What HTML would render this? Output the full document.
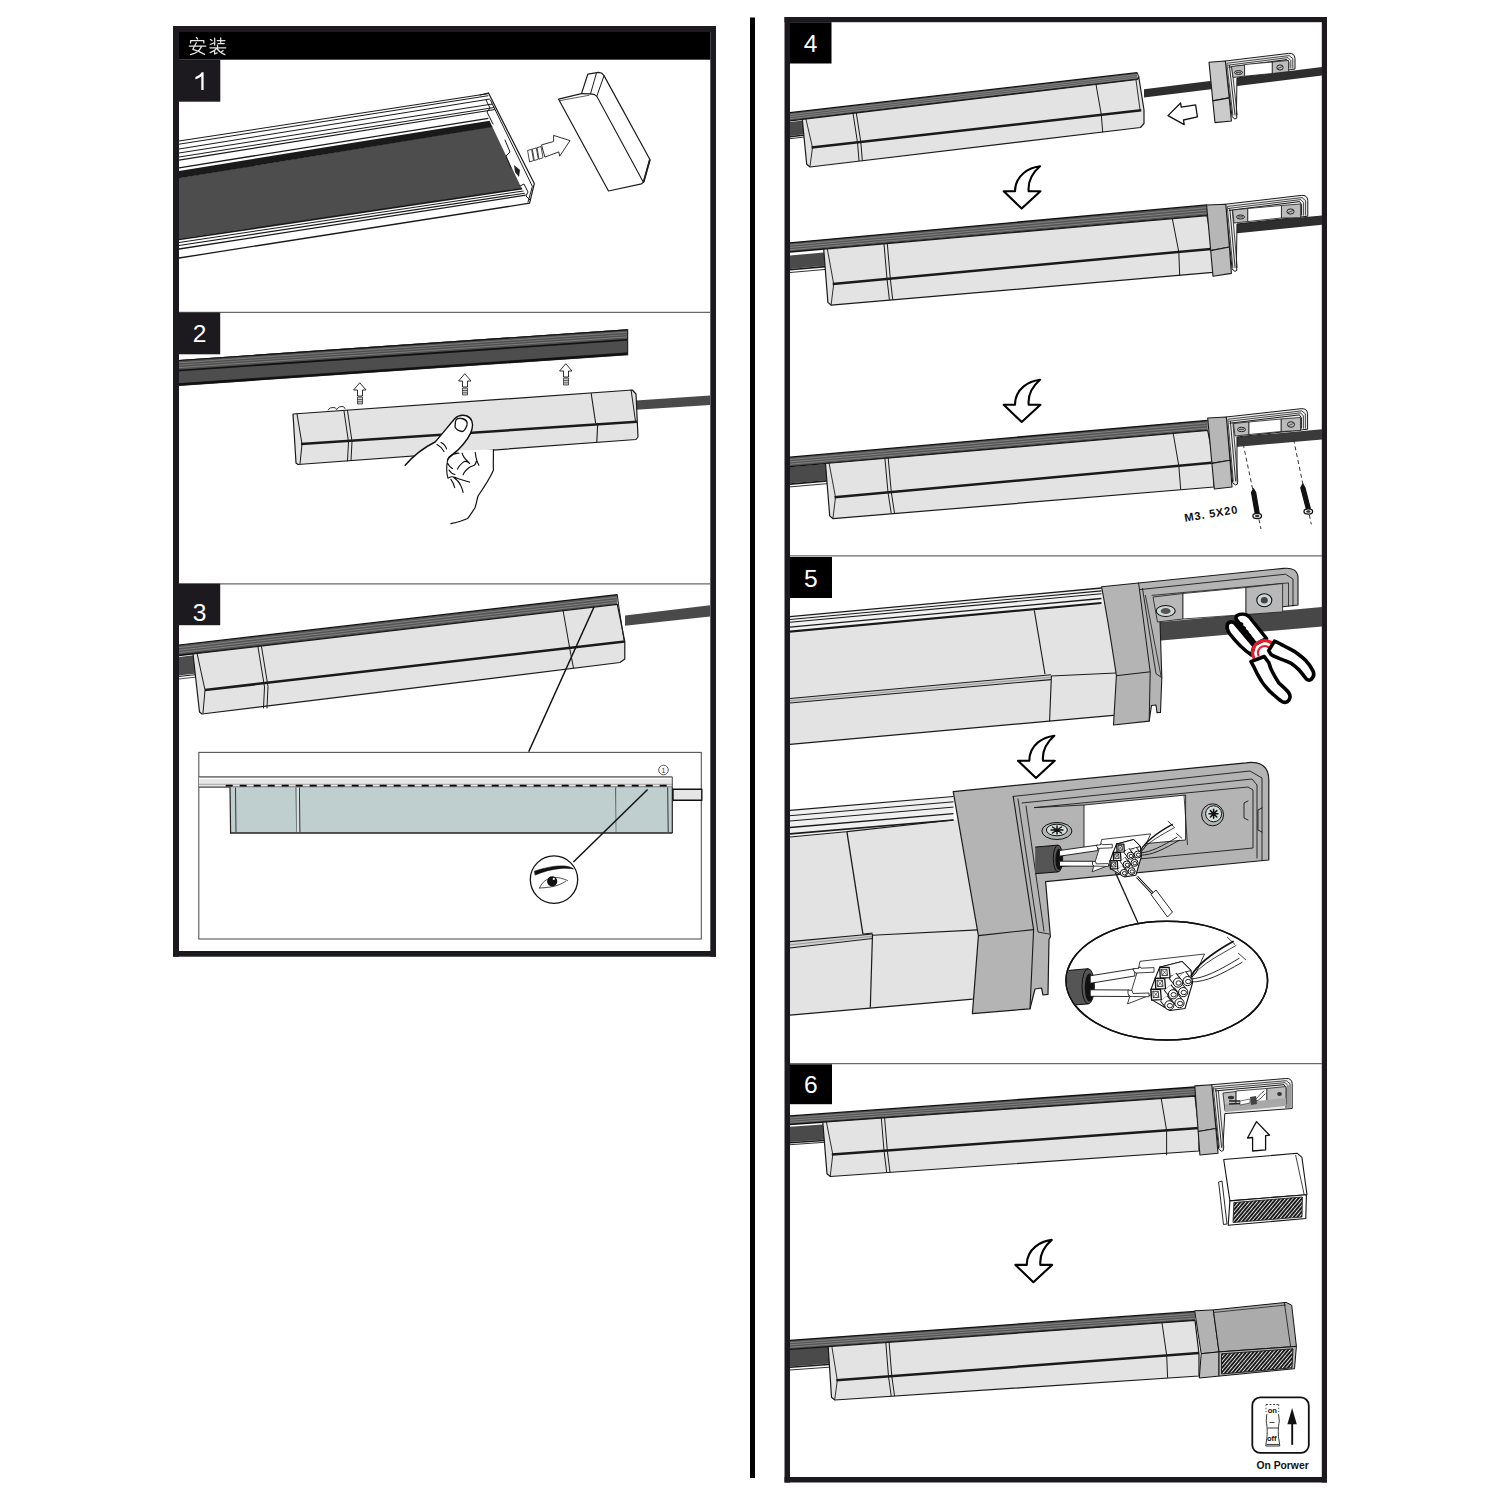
<!DOCTYPE html>
<html><head><meta charset="utf-8"><style>
html,body{margin:0;padding:0;background:#fff;}
svg{display:block;}
text{font-family:"Liberation Sans",sans-serif;}
</style></head><body>
<svg width="1500" height="1500" viewBox="0 0 1500 1500">
<rect width="1500" height="1500" fill="#fff"/>
<rect x="173" y="26" width="543.0" height="6.0" fill="#1c1a1f"/>
<rect x="173" y="951" width="543.0" height="5.7" fill="#1c1a1f"/>
<rect x="173" y="26" width="6.0" height="930.7" fill="#1c1a1f"/>
<rect x="710.3" y="26" width="5.7" height="930.7" fill="#1c1a1f"/>
<rect x="179" y="32" width="531.3" height="27.7" fill="#000"/>
<line x1="179.0" y1="312.4" x2="710.0" y2="312.4" stroke="#6a6a6a" stroke-width="1.2" />
<line x1="179.0" y1="583.8" x2="710.0" y2="583.8" stroke="#6a6a6a" stroke-width="1.2" />
<rect x="179" y="59.7" width="41.3" height="42.0" fill="#1c1a1f"/>
<rect x="179" y="312.5" width="41.2" height="41.8" fill="#1c1a1f"/>
<rect x="179" y="583.7" width="41.2" height="41.5" fill="#1c1a1f"/>
<rect x="750" y="17.5" width="5.0" height="1460.5" fill="#000"/>
<rect x="784.5" y="17" width="542.5" height="5.2" fill="#1c1a1f"/>
<rect x="784.5" y="1477" width="542.5" height="5.5" fill="#1c1a1f"/>
<rect x="784.5" y="17" width="5.5" height="1465.5" fill="#1c1a1f"/>
<rect x="1321.8" y="17" width="5.2" height="1465.5" fill="#1c1a1f"/>
<line x1="790.0" y1="555.8" x2="1322.0" y2="555.8" stroke="#6a6a6a" stroke-width="1.2" />
<line x1="790.0" y1="1063.7" x2="1322.0" y2="1063.7" stroke="#6a6a6a" stroke-width="1.2" />
<rect x="790" y="22.2" width="41.5" height="41.3" fill="#000"/>
<rect x="790" y="557" width="42.0" height="41.0" fill="#000"/>
<rect x="790" y="1064.3" width="42.0" height="39.9" fill="#000"/>
<path d="M201.3,90 L201.3,76.2 C199.8,77.6 197.6,78.6 195.4,79.2 L195.4,77 C198.4,76 200.4,74.2 201.7,72.3 L203.6,72.3 L203.6,90 Z" fill="#fff"/>
<text x="199.7" y="342.2" font-size="24.6" fill="#fff" font-weight="normal" text-anchor="middle" >2</text>
<text x="199.6" y="620.6" font-size="24.6" fill="#fff" font-weight="normal" text-anchor="middle" >3</text>
<text x="810.6" y="52.2" font-size="24.6" fill="#fff" font-weight="normal" text-anchor="middle" >4</text>
<text x="810.8" y="587" font-size="24.6" fill="#fff" font-weight="normal" text-anchor="middle" >5</text>
<text x="810.8" y="1092.6" font-size="24.6" fill="#fff" font-weight="normal" text-anchor="middle" >6</text>
<path d="M196.4,37.3 L197.6,39.1 M190.6,42.9 L190.6,40.5 L203.8,40.5 L203.8,42.9 M189.2,46 L205.7,46 M196.3,42.7 L192.8,49.3 L198.2,51.1 L204.5,54.4 M201.5,46.6 Q199.5,50 198.2,51.2 Q195,53.5 190.4,54.7 M210.4,39.4 L212,40.6 M214.7,38.2 L214.7,45 M210.2,44.5 L213.8,43 M217.3,40.5 L224.9,40.5 M220.7,37.9 L220.7,43.6 M218,43.6 L224.3,43.6 M217.4,45.2 L217.6,46.6 M209.9,47.8 L225.8,47.8 M216.8,48.4 Q215,50.5 210.2,52.6 M214.6,50.5 L214.6,54 L217.1,52.9 M217.1,48.7 Q219.5,52.5 224.9,54.7 M223.1,50.5 L221,52.3" stroke="#e6e6e6" stroke-width="1.25" fill="none" stroke-linecap="round" stroke-linejoin="round"/>
<polygon points="179.0,141.0 488.7,93.5 534.3,183.6 529.6,203.2 179.0,258.0" fill="#fff" stroke="none" stroke-width="1" stroke-linejoin="round" />
<polygon points="179.0,178.0 492.2,126.4 521.6,188.3 179.0,239.0" fill="#4d4d4d" stroke="none" stroke-width="1" stroke-linejoin="round" />
<line x1="179.0" y1="141.0" x2="487.4" y2="93.7" stroke="#1a1a1a" stroke-width="1.1" />
<line x1="179.0" y1="144.2" x2="488.3" y2="95.7" stroke="#1a1a1a" stroke-width="1" />
<line x1="179.0" y1="149.0" x2="489.9" y2="99.0" stroke="#1a1a1a" stroke-width="1" />
<line x1="179.0" y1="153.0" x2="492.4" y2="104.0" stroke="#1a1a1a" stroke-width="1" />
<line x1="179.0" y1="157.0" x2="494.1" y2="107.5" stroke="#1a1a1a" stroke-width="1" />
<line x1="179.0" y1="160.2" x2="495.0" y2="109.5" stroke="#1a1a1a" stroke-width="1.2" />
<polygon points="179.0,171.0 489.5,120.8 492.4,126.9 179.0,178.3" fill="#1a1a1a" stroke="none" stroke-width="1" stroke-linejoin="round" />
<line x1="179.0" y1="167.8" x2="488.3" y2="118.3" stroke="#1a1a1a" stroke-width="1.3" />
<line x1="179.0" y1="239.5" x2="522.1" y2="188.6" stroke="#1a1a1a" stroke-width="1.6" />
<line x1="179.0" y1="242.5" x2="523.5" y2="191.0" stroke="#1a1a1a" stroke-width="1.1" />
<line x1="179.0" y1="245.5" x2="524.7" y2="193.2" stroke="#1a1a1a" stroke-width="1.1" />
<line x1="179.0" y1="249.0" x2="525.8" y2="195.2" stroke="#1a1a1a" stroke-width="1.3" />
<line x1="179.0" y1="258.0" x2="529.6" y2="203.2" stroke="#1a1a1a" stroke-width="1.3" />
<polyline points="488.5,93.1 534.3,183.6 529.6,203.2" fill="none" stroke="#1a1a1a" stroke-width="1.2" stroke-linejoin="round" stroke-linecap="round" />
<polyline points="480.0,95.0 488.5,93.1" fill="none" stroke="#1a1a1a" stroke-width="1.1" stroke-linejoin="round" stroke-linecap="round" />
<polyline points="490.4,100.0 532.4,186.4 528.0,202.0" fill="none" stroke="#1a1a1a" stroke-width="1" stroke-linejoin="round" stroke-linecap="round" />
<polyline points="486.0,100.0 490.0,108.0 487.0,112.0 493.0,124.0" fill="none" stroke="#1a1a1a" stroke-width="1" stroke-linejoin="round" stroke-linecap="round" />
<polyline points="505.0,140.0 510.0,152.0 506.0,156.0 511.0,168.0" fill="none" stroke="#1a1a1a" stroke-width="1" stroke-linejoin="round" stroke-linecap="round" />
<polyline points="520.0,186.0 524.0,184.0 528.0,192.0 526.0,196.0 530.0,200.0" fill="none" stroke="#1a1a1a" stroke-width="1" stroke-linejoin="round" stroke-linecap="round" />
<polygon points="514.0,165.0 520.0,170.0 519.0,177.0 515.0,172.0" fill="#222" stroke="none" stroke-width="1" stroke-linejoin="round" />
<polygon points="558.6,99.2 581.5,93.6 587.8,74.2 598.6,72.4 601.5,73.0 604.0,75.6 649.9,159.5 643.6,182.0 641.5,183.8 608.5,191.0" fill="#fff" stroke="#1a1a1a" stroke-width="1.2" stroke-linejoin="round" />
<polyline points="581.5,93.6 590.5,93.9 594.5,94.6 596.8,96.2 642.7,181.1 643.6,182.0" fill="none" stroke="#1a1a1a" stroke-width="1.1" stroke-linejoin="round" stroke-linecap="round" />
<polyline points="590.5,93.9 596.4,73.2" fill="none" stroke="#1a1a1a" stroke-width="1" stroke-linejoin="round" stroke-linecap="round" />
<polyline points="596.8,96.2 604.0,75.8" fill="none" stroke="#1a1a1a" stroke-width="1" stroke-linejoin="round" stroke-linecap="round" />
<polyline points="560.0,100.6 589.0,95.3" fill="none" stroke="#1a1a1a" stroke-width="0.7" stroke-linejoin="round" stroke-linecap="round" />
<line x1="643.6" y1="182.0" x2="649.9" y2="159.5" stroke="#1a1a1a" stroke-width="1.8" />
<polygon points="541.5,144.9 553.6,141.5 553.6,135.4 570.0,140.6 559.7,156.2 558.8,151.9 544.9,157.1" fill="#fff" stroke="#1a1a1a" stroke-width="0.9" stroke-linejoin="round" />
<polygon points="527.6,150.5 531.6,149.3 533.6,160.5 529.6,162.0" fill="#fff" stroke="#1a1a1a" stroke-width="0.8" stroke-linejoin="round" />
<polygon points="532.3,149.1 536.3,147.9 538.3,159.1 534.3,160.6" fill="#fff" stroke="#1a1a1a" stroke-width="0.8" stroke-linejoin="round" />
<polygon points="537.0,147.7 541.0,146.5 543.0,157.7 539.0,159.2" fill="#fff" stroke="#1a1a1a" stroke-width="0.8" stroke-linejoin="round" />
<polygon points="179.0,360.0 627.6,329.3 627.6,355.3 179.0,386.0" fill="#3c3c3c" stroke="none" stroke-width="1" stroke-linejoin="round" />
<polygon points="179.0,360.0 627.6,329.3 627.6,339.3 179.0,370.0" fill="#505050" stroke="none" stroke-width="1" stroke-linejoin="round" />
<line x1="179.0" y1="360.5" x2="627.6" y2="329.8" stroke="#111" stroke-width="1.2" />
<line x1="179.0" y1="362.8" x2="627.6" y2="332.1" stroke="#9a9a9a" stroke-width="0.6" />
<line x1="179.0" y1="365.2" x2="627.6" y2="334.5" stroke="#8a8a8a" stroke-width="0.6" />
<line x1="179.0" y1="367.6" x2="627.6" y2="336.9" stroke="#9a9a9a" stroke-width="0.6" />
<polygon points="179.0,371.5 627.6,340.8 627.6,352.3 179.0,383.0" fill="#4d4d4d" stroke="none" stroke-width="1" stroke-linejoin="round" />
<line x1="179.0" y1="370.5" x2="627.6" y2="339.8" stroke="#111" stroke-width="1.6" />
<line x1="179.0" y1="384.5" x2="627.6" y2="353.8" stroke="#111" stroke-width="2.4" />
<line x1="627.6" y1="329.3" x2="627.6" y2="355.3" stroke="#222" stroke-width="1.2" />
<polygon points="636.0,400.5 710.0,395.6 710.0,405.0 636.0,409.8" fill="#4a4a4a" stroke="none" stroke-width="1" stroke-linejoin="round" />
<polygon points="293.0,414.0 632.3,390.0 636.0,394.0 638.0,437.0 636.0,439.5 298.0,464.5 296.0,463.0" fill="#e3e3e3" stroke="#1a1a1a" stroke-width="1.2" stroke-linejoin="round" />
<line x1="301.0" y1="444.0" x2="637.0" y2="421.7" stroke="#1a1a1a" stroke-width="2.5" />
<polyline points="297.0,414.0 302.0,444.0 300.0,464.0" fill="none" stroke="#1a1a1a" stroke-width="1" stroke-linejoin="round" stroke-linecap="round" />
<polyline points="631.1,390.0 635.5,421.2" fill="none" stroke="#1a1a1a" stroke-width="1" stroke-linejoin="round" stroke-linecap="round" />
<polyline points="344.0,411.0 348.5,442.0 347.5,461.0" fill="none" stroke="#1a1a1a" stroke-width="1" stroke-linejoin="round" stroke-linecap="round" />
<polyline points="347.5,410.5 352.0,441.5 351.0,460.5" fill="none" stroke="#1a1a1a" stroke-width="1" stroke-linejoin="round" stroke-linecap="round" />
<polyline points="591.2,393.5 595.6,423.0" fill="none" stroke="#1a1a1a" stroke-width="1.1" stroke-linejoin="round" stroke-linecap="round" />
<polyline points="597.7,423.3 596.8,442.0" fill="none" stroke="#1a1a1a" stroke-width="1.1" stroke-linejoin="round" stroke-linecap="round" />
<path d="M328,410 q2,-3 5,-2.5 q2,-0.6 4,2 M337,409 q2,-3 5,-2.5 q2,-0.6 3,2" fill="none" stroke="#1a1a1a" stroke-width="0.9" stroke-linejoin="round" stroke-linecap="round" />
<path d="M360,383 L366,390 L362.5,390 L362.5,396 L357.5,396 L357.5,390 L354,390 Z" fill="#fff" stroke="#1a1a1a" stroke-width="0.9" stroke-linejoin="round" stroke-linecap="round" />
<polygon points="357.5,397.0 362.5,397.0 362.5,404.0 357.5,404.0" fill="#ccc" stroke="#1a1a1a" stroke-width="0.7" stroke-linejoin="round" />
<line x1="357.5" y1="399.5" x2="362.5" y2="399.5" stroke="#1a1a1a" stroke-width="0.6" />
<line x1="357.5" y1="401.8" x2="362.5" y2="401.8" stroke="#1a1a1a" stroke-width="0.6" />
<path d="M465,374 L471,381 L467.5,381 L467.5,387 L462.5,387 L462.5,381 L459,381 Z" fill="#fff" stroke="#1a1a1a" stroke-width="0.9" stroke-linejoin="round" stroke-linecap="round" />
<polygon points="462.5,388.0 467.5,388.0 467.5,395.0 462.5,395.0" fill="#ccc" stroke="#1a1a1a" stroke-width="0.7" stroke-linejoin="round" />
<line x1="462.5" y1="390.5" x2="467.5" y2="390.5" stroke="#1a1a1a" stroke-width="0.6" />
<line x1="462.5" y1="392.8" x2="467.5" y2="392.8" stroke="#1a1a1a" stroke-width="0.6" />
<path d="M566,364 L572,371 L568.5,371 L568.5,377 L563.5,377 L563.5,371 L560,371 Z" fill="#fff" stroke="#1a1a1a" stroke-width="0.9" stroke-linejoin="round" stroke-linecap="round" />
<polygon points="563.5,378.0 568.5,378.0 568.5,385.0 563.5,385.0" fill="#ccc" stroke="#1a1a1a" stroke-width="0.7" stroke-linejoin="round" />
<line x1="563.5" y1="380.5" x2="568.5" y2="380.5" stroke="#1a1a1a" stroke-width="0.6" />
<line x1="563.5" y1="382.8" x2="568.5" y2="382.8" stroke="#1a1a1a" stroke-width="0.6" />
<path d="M405.2,465.3 C414,455 425,447 435.1,442 C443,433 450,424 454.7,418.7 C458,415.5 463,414.8 467,416 C472,418 473.5,424 472,429 C470.5,436 465,443 457.5,450.4 L493.4,449.5 L493.4,470 L478,496 L475.2,507.3 L467.7,518.5 L450.9,523.7 L430,530 L400,480 Z" fill="#fff" stroke="none" stroke-width="1" stroke-linejoin="round" stroke-linecap="round" />
<path d="M405.2,465.3 C414,455 425,447 435.1,442 C443,433 450,424 454.7,418.7 C458,415.5 463,414.8 467,416 C472,418 473.5,424 472,429 C470.5,436 465,443 457.5,450.4 C452,455 449,457 447.5,460" fill="none" stroke="#111" stroke-width="1.4" stroke-linejoin="round" stroke-linecap="round" />
<path d="M455.5,421.5 C456,418.5 459,418 462,418.5 C466,419.5 468,421 467,425 C466,428 464,431.5 462,431.5 C459,431 456,429 455,427 Z" fill="#fff" stroke="#111" stroke-width="1.3" stroke-linejoin="round" stroke-linecap="round" />
<path d="M437,444.5 C440,446 442,448 444,451.5 M441,442.5 C444,444 446,446.5 446.5,449" fill="none" stroke="#111" stroke-width="1.1" stroke-linejoin="round" stroke-linecap="round" />
<path d="M449,457 C447.5,459 446.8,463 446.7,469.1 C446.6,473 447.2,476 448.1,478.4 M449,457 C452,454.5 456,453 459,453.2 M462.1,453.2 C462.5,455.5 464,458 468.7,462.5 L469.6,463.5 M457.5,469.1 C458.5,466.5 460.3,464.4 464,461.6 C465.5,461 467,461.5 468.7,462.5 M463.1,474.7 C464,472 465.9,470 469.6,467.2 C471.5,466 473,466 474.3,465.3 C475.5,464 476,463 476.1,461.6 M475.2,452.3 C475.6,455 476.1,460.7 478.9,465.3 M449.1,477.5 C450.5,476.8 452.8,476.5 455,477.3 C459.3,479.3 464,480.5 469.6,482.1 M450.9,479.3 C452.3,481 453.7,484 454.7,487.7 M453.7,477.5 C456,479 459.3,482.1 460.5,485 C461.5,487 462.5,490 463.1,492.4 M447.5,463 C449,466 451,468 452.5,468.5 M449,470 C450.5,472.5 452.5,474 455,474.5" fill="none" stroke="#111" stroke-width="1.15" stroke-linejoin="round" stroke-linecap="round" />
<path d="M493.4,449.5 C493.6,456 493,466 493.5,470 C491,476 487,483 478,496 C476.5,502 476,505 475.2,507.3 C472,513 469,516.5 467.7,518.5 C462,521 456,522.5 450.9,523.7" fill="none" stroke="#111" stroke-width="1.2" stroke-linejoin="round" stroke-linecap="round" />
<polygon points="179.0,657.0 196.0,655.0 200.0,673.0 179.0,675.5" fill="#4d4d4d" stroke="none" stroke-width="1" stroke-linejoin="round" />
<line x1="179.0" y1="676.5" x2="201.0" y2="674.0" stroke="#1a1a1a" stroke-width="1.2" />
<line x1="179.0" y1="679.0" x2="201.0" y2="676.5" stroke="#1a1a1a" stroke-width="0.8" />
<polygon points="179.0,645.0 617.3,594.6 617.3,604.3 179.0,655.0" fill="#555" stroke="none" stroke-width="1" stroke-linejoin="round" />
<line x1="179.0" y1="645.0" x2="617.3" y2="594.6" stroke="#111" stroke-width="1.2" />
<line x1="179.0" y1="647.6" x2="617.3" y2="597.2" stroke="#a0a0a0" stroke-width="0.6" />
<line x1="179.0" y1="650.2" x2="617.3" y2="599.8" stroke="#a0a0a0" stroke-width="0.6" />
<line x1="179.0" y1="652.6" x2="617.3" y2="602.2" stroke="#a0a0a0" stroke-width="0.6" />
<line x1="179.0" y1="655.4" x2="617.3" y2="605.0" stroke="#111" stroke-width="1.6" />
<line x1="617.3" y1="594.6" x2="618.5" y2="604.0" stroke="#1a1a1a" stroke-width="1" />
<polygon points="193.0,654.0 617.3,604.3 624.8,641.6 624.8,659.0 620.0,662.5 202.0,714.0 199.5,712.0" fill="#e3e3e3" stroke="#1a1a1a" stroke-width="1.2" stroke-linejoin="round" />
<line x1="205.0" y1="690.0" x2="624.8" y2="641.6" stroke="#1a1a1a" stroke-width="2.5" />
<polyline points="197.0,653.0 205.0,690.0 203.0,713.0" fill="none" stroke="#1a1a1a" stroke-width="1" stroke-linejoin="round" stroke-linecap="round" />
<polyline points="618.5,604.5 624.0,640.0" fill="none" stroke="#1a1a1a" stroke-width="1" stroke-linejoin="round" stroke-linecap="round" />
<polyline points="258.0,647.0 264.5,687.0 263.5,708.0" fill="none" stroke="#1a1a1a" stroke-width="1" stroke-linejoin="round" stroke-linecap="round" />
<polyline points="261.5,646.5 268.0,686.5 267.0,708.0" fill="none" stroke="#1a1a1a" stroke-width="1" stroke-linejoin="round" stroke-linecap="round" />
<polyline points="563.0,610.0 570.0,650.0 573.5,668.0" fill="none" stroke="#1a1a1a" stroke-width="1" stroke-linejoin="round" stroke-linecap="round" />
<polygon points="625.0,615.5 710.0,605.2 710.0,616.4 625.0,625.7" fill="#4a4a4a" stroke="none" stroke-width="1" stroke-linejoin="round" />
<line x1="594.0" y1="607.0" x2="528.7" y2="751.7" stroke="#111" stroke-width="1.5" />
<rect x="198.8" y="752.4" width="502.5" height="186.6" fill="#fff" stroke="#555" stroke-width="1.1"/>
<polygon points="199.0,776.9 672.3,776.9 672.3,787.2 199.0,787.2" fill="#e6e6e6" stroke="none" stroke-width="1" stroke-linejoin="round" />
<line x1="199.0" y1="776.9" x2="672.3" y2="776.9" stroke="#555" stroke-width="1.2" />
<line x1="199.0" y1="778.6" x2="672.3" y2="778.6" stroke="#fff" stroke-width="1" />
<line x1="199.0" y1="784.3" x2="672.3" y2="784.3" stroke="#999" stroke-width="0.8" />
<line x1="199.0" y1="787.2" x2="672.3" y2="787.2" stroke="#444" stroke-width="1.2" />
<line x1="225.7" y1="785.6" x2="672.3" y2="785.6" stroke="#000" stroke-width="1.8" stroke-dasharray="7,7"/>
<line x1="672.3" y1="776.9" x2="672.3" y2="787.2" stroke="#444" stroke-width="1" />
<polygon points="229.9,787.2 672.3,787.2 672.3,833.0 230.3,833.0" fill="#bfcece" stroke="none" stroke-width="1" stroke-linejoin="round" />
<line x1="230.0" y1="787.2" x2="230.6" y2="833.0" stroke="#222" stroke-width="1.2" />
<line x1="672.3" y1="787.2" x2="672.3" y2="833.0" stroke="#222" stroke-width="1.2" />
<line x1="229.9" y1="833.0" x2="672.3" y2="833.0" stroke="#222" stroke-width="1.6" />
<line x1="235.5" y1="787.5" x2="236.0" y2="832.0" stroke="#333" stroke-width="1" />
<line x1="296.1" y1="787.5" x2="296.6" y2="832.0" stroke="#333" stroke-width="1" />
<line x1="299.4" y1="787.5" x2="299.9" y2="832.0" stroke="#333" stroke-width="1" />
<line x1="615.8" y1="787.5" x2="616.3" y2="832.0" stroke="#333" stroke-width="1" />
<line x1="667.7" y1="787.5" x2="668.2" y2="832.0" stroke="#333" stroke-width="1" />
<polygon points="296.6,788.0 298.9,788.0 298.9,832.0 296.6,832.0" fill="#d8e2e2" stroke="none" stroke-width="1" stroke-linejoin="round" />
<polygon points="616.3,788.0 619.0,788.0 619.0,832.0 616.3,832.0" fill="#bfcece" stroke="none" stroke-width="1" stroke-linejoin="round" />
<polygon points="673.0,789.3 701.8,789.3 701.8,800.3 673.0,800.3" fill="#e6e6e6" stroke="#111" stroke-width="1.4" stroke-linejoin="round" />
<circle cx="663.5" cy="770" r="4.8" fill="none" stroke="#333" stroke-width="0.8"/>
<text x="663.5" y="773" font-size="7" fill="#333" font-weight="normal" text-anchor="middle" >1</text>
<line x1="573.4" y1="862.0" x2="647.6" y2="789.5" stroke="#111" stroke-width="1.5" />
<circle cx="554" cy="879.6" r="23.7" fill="#fff" stroke="#111" stroke-width="1.3"/>
<path d="M534.5,871.2 C545,867.5 556,865.5 564,866 C568.5,866.3 571.5,867.3 573.5,869 C569,868.2 565,868.2 561,868.4 C552,869.2 543,871.5 535.4,875 Z" fill="#111" stroke="#111" stroke-width="0.6" stroke-linejoin="round" stroke-linecap="round" />
<path d="M539.5,888 C542,882 547,878.3 553,877.5 C558,877 563,878.5 567.5,880.5 M539.5,888 C546,887.8 552,887 557,885.5 C561,884 564,882.5 565.5,881.5" fill="none" stroke="#222" stroke-width="0.8" stroke-linejoin="round" stroke-linecap="round" />
<circle cx="552.2" cy="881.3" r="5.1" fill="#111"/>
<circle cx="553.8" cy="878.9" r="1.1" fill="#fff"/>
<polygon points="1144.0,89.3 1322.0,67.0 1322.0,75.4 1144.0,97.6" fill="#2e2e2e" stroke="none" stroke-width="1" stroke-linejoin="round" />
<polygon points="790.0,122.0 805.3,120.2 806.0,134.1 790.0,136.0" fill="#4a4a4a" stroke="none" stroke-width="1" stroke-linejoin="round" />
<line x1="790.0" y1="136.8" x2="807.0" y2="134.8" stroke="#1a1a1a" stroke-width="1.6" />
<line x1="790.0" y1="138.7" x2="807.0" y2="136.7" stroke="#1a1a1a" stroke-width="0.9" />
<polygon points="790.0,112.7 1137.3,72.7 1137.3,79.5 790.0,120.8" fill="#555" stroke="none" stroke-width="1" stroke-linejoin="round" />
<line x1="790.0" y1="112.7" x2="1137.3" y2="72.7" stroke="#111" stroke-width="1.3" />
<line x1="790.0" y1="114.7" x2="1137.3" y2="74.4" stroke="#a0a0a0" stroke-width="0.6" />
<line x1="790.0" y1="116.7" x2="1137.3" y2="76.1" stroke="#a0a0a0" stroke-width="0.6" />
<line x1="790.0" y1="118.7" x2="1137.3" y2="77.8" stroke="#a0a0a0" stroke-width="0.6" />
<line x1="790.0" y1="120.8" x2="1137.3" y2="79.5" stroke="#111" stroke-width="1.3" />
<polygon points="802.3,119.3 1137.3,79.5 1138.7,76.5 1144.0,110.0 1144.0,123.5 1140.5,127.5 810.0,167.0 806.7,164.2" fill="#e3e3e3" stroke="#1a1a1a" stroke-width="1.2" stroke-linejoin="round" />
<line x1="811.5" y1="147.6" x2="1141.3" y2="110.2" stroke="#1a1a1a" stroke-width="2.5" />
<polyline points="805.9,118.9 812.5,147.5 810.0,166.2" fill="none" stroke="#1a1a1a" stroke-width="0.9" stroke-linejoin="round" stroke-linecap="round" />
<polyline points="853.0,113.3 857.5,142.4 859.0,160.6" fill="none" stroke="#1a1a1a" stroke-width="1" stroke-linejoin="round" stroke-linecap="round" />
<polyline points="856.3,112.9 860.8,142.0 862.3,160.2" fill="none" stroke="#1a1a1a" stroke-width="1" stroke-linejoin="round" stroke-linecap="round" />
<polyline points="1096.0,84.4 1101.3,114.7 1102.7,132.1" fill="none" stroke="#1a1a1a" stroke-width="1" stroke-linejoin="round" stroke-linecap="round" />
<line x1="1137.3" y1="72.7" x2="1138.7" y2="76.5" stroke="#1a1a1a" stroke-width="1" />
<polyline points="1136.0,80.0 1140.0,109.5" fill="none" stroke="#1a1a1a" stroke-width="0.9" stroke-linejoin="round" stroke-linecap="round" />
<path d="M1225.4,61 L1288.5,53.4 Q1294.5,52.8 1295.0,58.4 L1295,69 L1237,78 L1236.4,113 L1236.9,118 L1234.9,119 L1232.4,117 Z" fill="#eeeeee" stroke="#1a1a1a" stroke-width="1" stroke-linejoin="round" stroke-linecap="round" />
<polyline points="1227.3,63.2 1289.2,55.6 1292.8,58.6 1292.8,68.0" fill="none" stroke="#1a1a1a" stroke-width="0.8" stroke-linejoin="round" stroke-linecap="round" />
<polyline points="1228.1,65.2 1288.0,57.6 1290.8,60.6 1290.8,68.0" fill="none" stroke="#1a1a1a" stroke-width="0.8" stroke-linejoin="round" stroke-linecap="round" />
<polyline points="1228.9,67.2 1286.8,59.6 1288.8,62.6 1288.8,68.0" fill="none" stroke="#1a1a1a" stroke-width="1.0" stroke-linejoin="round" stroke-linecap="round" />
<polyline points="1226.9,63.9 1232.8,115.0" fill="none" stroke="#1a1a1a" stroke-width="0.8" stroke-linejoin="round" stroke-linecap="round" />
<polyline points="1229.4,65.4 1235.0,115.0" fill="none" stroke="#1a1a1a" stroke-width="0.9" stroke-linejoin="round" stroke-linecap="round" />
<polyline points="1231.9,66.9 1237.2,115.0" fill="none" stroke="#1a1a1a" stroke-width="0.8" stroke-linejoin="round" stroke-linecap="round" />
<polygon points="1231.5,66.5 1244.6,65.0 1244.6,76.2 1233.0,77.5" fill="#bcbcbc" stroke="#1a1a1a" stroke-width="0.8" stroke-linejoin="round" />
<polygon points="1272.2,62.0 1288.6,60.4 1288.6,71.6 1272.2,73.5" fill="#bcbcbc" stroke="#1a1a1a" stroke-width="0.8" stroke-linejoin="round" />
<polygon points="1244.6,64.5 1272.2,62.0 1272.2,73.5 1244.6,76.2" fill="#fff" stroke="#1a1a1a" stroke-width="0.8" stroke-linejoin="round" />
<polygon points="1209.0,62.2 1225.4,61.0 1229.2,97.9 1212.8,100.9" fill="#c8c8c8" stroke="#1a1a1a" stroke-width="1.1" stroke-linejoin="round" />
<polygon points="1212.8,100.9 1229.2,97.9 1231.4,121.0 1215.0,122.6" fill="#cbcbcb" stroke="#1a1a1a" stroke-width="1.1" stroke-linejoin="round" />
<ellipse cx="1238.5" cy="72.5" rx="4" ry="1.9" fill="none" stroke="#222" stroke-width="1"/>
<line x1="1236.0" y1="72.5" x2="1241.0" y2="72.3" stroke="#222" stroke-width="0.8" />
<ellipse cx="1280" cy="67.5" rx="3.2" ry="2.6" fill="none" stroke="#222" stroke-width="1"/>
<line x1="1277.5" y1="68.5" x2="1282.5" y2="66.5" stroke="#222" stroke-width="0.7" />
<polygon points="1168.0,115.6 1180.6,103.0 1181.3,107.2 1195.6,104.8 1197.4,116.8 1183.5,120.0 1184.2,124.6" fill="#fff" stroke="#111" stroke-width="1.3" stroke-linejoin="round" />
<path d="M1021.7,208.6 l18.7,-17.3 l-11.7,0 c-1.0,-9.7 3.0,-17.7 11.3,-25.0 c-10.3,1.3 -24.8,8.3 -25.0,25.0 l-11.3,0 Z" fill="#fff" stroke="#000" stroke-width="2.1" stroke-linejoin="round" stroke-linecap="round" />
<polygon points="1230.0,224.0 1322.0,215.5 1322.0,224.8 1230.0,234.0" fill="#2e2e2e" stroke="none" stroke-width="1" stroke-linejoin="round" />
<polygon points="790.0,255.4 826.7,252.2 827.2,265.6 790.0,268.9" fill="#4a4a4a" stroke="none" stroke-width="1" stroke-linejoin="round" />
<line x1="790.0" y1="269.7" x2="828.2" y2="266.4" stroke="#1a1a1a" stroke-width="1.6" />
<line x1="790.0" y1="272.5" x2="828.2" y2="269.2" stroke="#1a1a1a" stroke-width="0.9" />
<polygon points="790.0,242.8 1207.0,204.9 1207.0,215.6 790.0,252.0" fill="#555" stroke="none" stroke-width="1" stroke-linejoin="round" />
<line x1="790.0" y1="242.8" x2="1207.0" y2="204.9" stroke="#111" stroke-width="1.3" />
<line x1="790.0" y1="245.1" x2="1207.0" y2="207.6" stroke="#a0a0a0" stroke-width="0.6" />
<line x1="790.0" y1="247.4" x2="1207.0" y2="210.2" stroke="#a0a0a0" stroke-width="0.6" />
<line x1="790.0" y1="249.7" x2="1207.0" y2="212.9" stroke="#a0a0a0" stroke-width="0.6" />
<line x1="790.0" y1="252.0" x2="1207.0" y2="215.6" stroke="#111" stroke-width="1.3" />
<polygon points="823.7,249.1 1207.0,215.6 1213.0,248.0 1213.0,272.4 831.2,305.2 827.9,302.4" fill="#e3e3e3" stroke="#1a1a1a" stroke-width="1.2" stroke-linejoin="round" />
<line x1="832.7" y1="283.9" x2="1211.0" y2="248.9" stroke="#1a1a1a" stroke-width="2.5" />
<polyline points="827.3,248.8 833.7,283.9 831.2,304.4" fill="none" stroke="#1a1a1a" stroke-width="0.9" stroke-linejoin="round" stroke-linecap="round" />
<polyline points="884.0,243.8 887.0,278.9 889.4,299.7" fill="none" stroke="#1a1a1a" stroke-width="1" stroke-linejoin="round" stroke-linecap="round" />
<polyline points="887.3,243.5 890.3,278.6 892.7,299.4" fill="none" stroke="#1a1a1a" stroke-width="1" stroke-linejoin="round" stroke-linecap="round" />
<polyline points="1172.3,218.6 1178.8,251.9 1179.7,275.2" fill="none" stroke="#1a1a1a" stroke-width="1" stroke-linejoin="round" stroke-linecap="round" />
<path d="M1225.8,204.2 L1301.3,195.4 Q1307.3,194.8 1307.8,200.4 L1307.8,216.2 L1237,224 L1236.4,265.4 L1236.9,270.4 L1234.9,271.4 L1232.4,269.4 Z" fill="#eeeeee" stroke="#1a1a1a" stroke-width="1" stroke-linejoin="round" stroke-linecap="round" />
<polyline points="1227.7,206.4 1302.0,197.6 1305.6,200.6 1305.6,215.2" fill="none" stroke="#1a1a1a" stroke-width="0.8" stroke-linejoin="round" stroke-linecap="round" />
<polyline points="1228.5,208.4 1300.8,199.6 1303.6,202.6 1303.6,215.2" fill="none" stroke="#1a1a1a" stroke-width="0.8" stroke-linejoin="round" stroke-linecap="round" />
<polyline points="1229.3,210.4 1299.6,201.6 1301.6,204.6 1301.6,215.2" fill="none" stroke="#1a1a1a" stroke-width="1.0" stroke-linejoin="round" stroke-linecap="round" />
<polyline points="1227.3,207.1 1232.8,267.4" fill="none" stroke="#1a1a1a" stroke-width="0.8" stroke-linejoin="round" stroke-linecap="round" />
<polyline points="1229.8,208.6 1235.0,267.4" fill="none" stroke="#1a1a1a" stroke-width="0.9" stroke-linejoin="round" stroke-linecap="round" />
<polyline points="1232.3,210.1 1237.2,267.4" fill="none" stroke="#1a1a1a" stroke-width="0.8" stroke-linejoin="round" stroke-linecap="round" />
<polygon points="1232.6,210.0 1247.8,208.5 1247.8,221.5 1234.0,223.0" fill="#bcbcbc" stroke="#1a1a1a" stroke-width="0.8" stroke-linejoin="round" />
<polygon points="1281.4,205.5 1300.6,204.0 1300.6,217.8 1281.4,218.0" fill="#bcbcbc" stroke="#1a1a1a" stroke-width="0.8" stroke-linejoin="round" />
<polygon points="1247.8,208.5 1281.4,205.5 1281.4,218.0 1247.8,221.5" fill="#fff" stroke="#1a1a1a" stroke-width="0.8" stroke-linejoin="round" />
<polygon points="1206.6,205.0 1225.8,204.2 1229.4,247.0 1210.7,250.6" fill="#b6b6b6" stroke="#1a1a1a" stroke-width="1.1" stroke-linejoin="round" />
<polygon points="1210.7,250.6 1229.4,247.0 1231.4,273.4 1213.0,276.2" fill="#bdbdbd" stroke="#1a1a1a" stroke-width="1.1" stroke-linejoin="round" />
<ellipse cx="1240.5" cy="217" rx="4" ry="2" fill="none" stroke="#222" stroke-width="1"/>
<line x1="1238.0" y1="217.0" x2="1243.0" y2="216.8" stroke="#222" stroke-width="0.8" />
<ellipse cx="1290.5" cy="211.5" rx="3.6" ry="2.6" fill="none" stroke="#222" stroke-width="1"/>
<line x1="1288.0" y1="212.5" x2="1293.0" y2="210.5" stroke="#222" stroke-width="0.7" />
<path d="M1021.7,422 l18.7,-17.3 l-11.7,0 c-1.0,-9.7 3.0,-17.7 11.3,-25.0 c-10.3,1.3 -24.8,8.3 -25.0,25.0 l-11.3,0 Z" fill="#fff" stroke="#000" stroke-width="2.1" stroke-linejoin="round" stroke-linecap="round" />
<polygon points="1230.0,437.5 1322.0,429.2 1322.0,439.5 1230.0,447.5" fill="#3a3a3a" stroke="none" stroke-width="1" stroke-linejoin="round" />
<polygon points="790.0,467.0 828.5,463.7 829.0,479.9 790.0,483.3" fill="#4a4a4a" stroke="none" stroke-width="1" stroke-linejoin="round" />
<line x1="790.0" y1="484.1" x2="830.0" y2="480.6" stroke="#1a1a1a" stroke-width="1.6" />
<line x1="790.0" y1="486.9" x2="830.0" y2="483.4" stroke="#1a1a1a" stroke-width="0.9" />
<polygon points="790.0,457.2 1207.7,420.3 1207.7,430.5 790.0,466.6" fill="#555" stroke="none" stroke-width="1" stroke-linejoin="round" />
<line x1="790.0" y1="457.2" x2="1207.7" y2="420.3" stroke="#111" stroke-width="1.3" />
<line x1="790.0" y1="459.5" x2="1207.7" y2="422.9" stroke="#a0a0a0" stroke-width="0.6" />
<line x1="790.0" y1="461.9" x2="1207.7" y2="425.4" stroke="#a0a0a0" stroke-width="0.6" />
<line x1="790.0" y1="464.2" x2="1207.7" y2="428.0" stroke="#a0a0a0" stroke-width="0.6" />
<line x1="790.0" y1="466.6" x2="1207.7" y2="430.5" stroke="#111" stroke-width="1.3" />
<polygon points="825.5,463.5 1207.7,430.5 1214.0,462.5 1214.0,487.0 833.0,518.7 829.7,515.9" fill="#e3e3e3" stroke="#1a1a1a" stroke-width="1.2" stroke-linejoin="round" />
<line x1="834.5" y1="497.3" x2="1211.7" y2="462.7" stroke="#1a1a1a" stroke-width="2.5" />
<polyline points="829.1,463.2 835.5,497.2 833.0,517.9" fill="none" stroke="#1a1a1a" stroke-width="0.9" stroke-linejoin="round" stroke-linecap="round" />
<polyline points="884.9,458.4 888.0,492.4 891.2,513.3" fill="none" stroke="#1a1a1a" stroke-width="1" stroke-linejoin="round" stroke-linecap="round" />
<polyline points="888.2,458.1 891.3,492.1 894.5,513.0" fill="none" stroke="#1a1a1a" stroke-width="1" stroke-linejoin="round" stroke-linecap="round" />
<polyline points="1173.2,433.5 1178.8,465.7 1180.7,489.3" fill="none" stroke="#1a1a1a" stroke-width="1" stroke-linejoin="round" stroke-linecap="round" />
<path d="M1226.4,417 L1301.1,408.7 Q1307.1,408.09999999999997 1307.6,413.7 L1307.6,429.2 L1237,437 L1237,479 L1237.5,484 L1235.5,485 L1233,483 Z" fill="#eeeeee" stroke="#1a1a1a" stroke-width="1" stroke-linejoin="round" stroke-linecap="round" />
<polyline points="1228.3,419.2 1301.8,410.9 1305.4,413.9 1305.4,428.2" fill="none" stroke="#1a1a1a" stroke-width="0.8" stroke-linejoin="round" stroke-linecap="round" />
<polyline points="1229.1,421.2 1300.6,412.9 1303.4,415.9 1303.4,428.2" fill="none" stroke="#1a1a1a" stroke-width="0.8" stroke-linejoin="round" stroke-linecap="round" />
<polyline points="1229.9,423.2 1299.4,414.9 1301.4,417.9 1301.4,428.2" fill="none" stroke="#1a1a1a" stroke-width="1.0" stroke-linejoin="round" stroke-linecap="round" />
<polyline points="1227.9,419.9 1233.3,481.0" fill="none" stroke="#1a1a1a" stroke-width="0.8" stroke-linejoin="round" stroke-linecap="round" />
<polyline points="1230.4,421.4 1235.6,481.0" fill="none" stroke="#1a1a1a" stroke-width="0.9" stroke-linejoin="round" stroke-linecap="round" />
<polyline points="1232.9,422.9 1237.8,481.0" fill="none" stroke="#1a1a1a" stroke-width="0.8" stroke-linejoin="round" stroke-linecap="round" />
<polygon points="1233.5,423.5 1249.0,422.0 1249.0,434.5 1235.0,436.0" fill="#bcbcbc" stroke="#1a1a1a" stroke-width="0.8" stroke-linejoin="round" />
<polygon points="1281.0,419.0 1300.5,417.5 1300.5,430.5 1281.0,431.5" fill="#bcbcbc" stroke="#1a1a1a" stroke-width="0.8" stroke-linejoin="round" />
<polygon points="1249.0,422.0 1281.0,419.0 1281.0,431.5 1249.0,434.5" fill="#fff" stroke="#1a1a1a" stroke-width="0.8" stroke-linejoin="round" />
<polygon points="1207.7,418.0 1226.4,417.0 1230.0,460.3 1211.9,463.4" fill="#b6b6b6" stroke="#1a1a1a" stroke-width="1.1" stroke-linejoin="round" />
<polygon points="1211.9,463.4 1230.0,460.3 1232.0,487.0 1214.3,489.0" fill="#bdbdbd" stroke="#1a1a1a" stroke-width="1.1" stroke-linejoin="round" />
<ellipse cx="1241.5" cy="429.5" rx="4" ry="2.2" fill="none" stroke="#222" stroke-width="1"/>
<line x1="1239.0" y1="429.5" x2="1244.0" y2="429.3" stroke="#222" stroke-width="0.8" />
<ellipse cx="1291" cy="424.5" rx="3.6" ry="2.8" fill="none" stroke="#222" stroke-width="1"/>
<line x1="1288.5" y1="425.5" x2="1293.5" y2="423.5" stroke="#222" stroke-width="0.7" />
<line x1="1243.2" y1="444.0" x2="1261.0" y2="529.0" stroke="#333" stroke-width="1" stroke-dasharray="4,3"/>
<line x1="1293.6" y1="439.5" x2="1311.3" y2="524.4" stroke="#333" stroke-width="1" stroke-dasharray="4,3"/>
<path d="M1251.5,492.5 L1253.5,488.7 L1255.7,492.5 L1259.2,513 L1255.2,513.4 Z" fill="#111" stroke="#111" stroke-width="1.2" stroke-linejoin="round" stroke-linecap="round" />
<ellipse cx="1257.2" cy="516" rx="4.3" ry="2.6" fill="#fff" stroke="#111" stroke-width="1.3"/>
<ellipse cx="1257.2" cy="516" rx="2.2" ry="1.2" fill="#333"/>
<path d="M1300.8,487.8 L1302.8,484.0 L1305.0,487.8 L1310.3,508.5 L1306.3,508.9 Z" fill="#111" stroke="#111" stroke-width="1.2" stroke-linejoin="round" stroke-linecap="round" />
<ellipse cx="1308.3" cy="511.5" rx="4.3" ry="2.6" fill="#fff" stroke="#111" stroke-width="1.3"/>
<ellipse cx="1308.3" cy="511.5" rx="2.2" ry="1.2" fill="#333"/>
<text x="0" y="0" font-size="11.2" fill="#111" font-weight="bold" text-anchor="start" transform="translate(1185,521.8) rotate(-9.3)" letter-spacing="0.8">M3. 5X20</text>
<polygon points="1150.0,623.0 1322.0,607.0 1322.0,626.4 1150.0,641.5" fill="#474747" stroke="none" stroke-width="1" stroke-linejoin="round" />
<polygon points="790.0,633.0 1120.0,602.7 1120.0,714.7 790.0,744.4" fill="#e3e3e3" stroke="none" stroke-width="1" stroke-linejoin="round" />
<polygon points="790.0,616.6 1110.0,587.3 1110.0,603.7 790.0,633.0" fill="#f2f2f2" stroke="none" stroke-width="1" stroke-linejoin="round" />
<line x1="790.0" y1="616.6" x2="1101.5" y2="588.0" stroke="#1a1a1a" stroke-width="1.3" />
<line x1="790.0" y1="619.5" x2="1101.5" y2="590.9" stroke="#1a1a1a" stroke-width="1.1" />
<line x1="790.0" y1="622.3" x2="1101.5" y2="593.7" stroke="#1a1a1a" stroke-width="1.1" />
<line x1="790.0" y1="627.1" x2="1101.5" y2="598.5" stroke="#1a1a1a" stroke-width="1.3" />
<line x1="790.0" y1="631.6" x2="1101.5" y2="603.0" stroke="#1a1a1a" stroke-width="2.2" />
<polygon points="790.0,698.5 1051.0,675.0 1051.0,679.6 790.0,703.0" fill="#cfcfcf" stroke="none" stroke-width="1" stroke-linejoin="round" />
<line x1="790.0" y1="698.5" x2="1051.0" y2="674.8" stroke="#1a1a1a" stroke-width="1.1" />
<line x1="790.0" y1="703.0" x2="1051.0" y2="679.6" stroke="#1a1a1a" stroke-width="1.1" />
<line x1="790.0" y1="700.8" x2="1051.0" y2="677.2" stroke="#777" stroke-width="0.6" />
<line x1="1051.0" y1="676.0" x2="1116.0" y2="673.0" stroke="#1a1a1a" stroke-width="1" />
<line x1="790.0" y1="744.4" x2="1116.0" y2="715.1" stroke="#1a1a1a" stroke-width="1.3" />
<line x1="1034.3" y1="610.3" x2="1045.0" y2="674.2" stroke="#1a1a1a" stroke-width="1.1" />
<line x1="1051.4" y1="676.0" x2="1049.6" y2="721.0" stroke="#1a1a1a" stroke-width="1.1" />
<path d="M1101.5,586.7 L1283.6,568.4 Q1297,567 1298,577 L1298,605 L1160,621 L1161.8,677.6 L1160.5,712.4 L1157,712.6 L1156,705 L1151.5,705.5 L1149.2,721.1 L1113.5,725 L1116.4,675.7 Q1108,620 1101.5,586.7 Z" fill="#b4b4b4" stroke="#1a1a1a" stroke-width="1.1" stroke-linejoin="round" stroke-linecap="round" />
<line x1="1116.4" y1="675.7" x2="1150.2" y2="671.8" stroke="#1a1a1a" stroke-width="1" />
<polyline points="1138.6,583.0 1150.2,671.8 1149.2,721.1" fill="none" stroke="#1a1a1a" stroke-width="1" stroke-linejoin="round" stroke-linecap="round" />
<polyline points="1139.6,589.6 1285.5,574.2 1293.0,579.0 1293.0,606.0" fill="none" stroke="#1a1a1a" stroke-width="0.9" stroke-linejoin="round" stroke-linecap="round" />
<polyline points="1142.5,588.5 1156.0,673.7 1161.8,677.6" fill="none" stroke="#1a1a1a" stroke-width="0.9" stroke-linejoin="round" stroke-linecap="round" />
<polyline points="1145.4,595.4 1161.0,676.0" fill="none" stroke="#1a1a1a" stroke-width="0.8" stroke-linejoin="round" stroke-linecap="round" />
<polyline points="1152.0,595.4 1288.5,582.9 1288.5,606.0" fill="none" stroke="#1a1a1a" stroke-width="0.8" stroke-linejoin="round" stroke-linecap="round" />
<polygon points="1153.0,597.0 1183.0,593.5 1183.0,619.0 1157.5,622.0" fill="#b8b8b8" stroke="#1a1a1a" stroke-width="0.8" stroke-linejoin="round" />
<polygon points="1183.0,593.5 1246.0,587.5 1246.0,614.5 1183.0,619.0" fill="#fff" stroke="#1a1a1a" stroke-width="0.8" stroke-linejoin="round" />
<polygon points="1246.0,587.5 1282.6,583.5 1282.6,611.9 1246.0,614.5" fill="#b8b8b8" stroke="#1a1a1a" stroke-width="0.8" stroke-linejoin="round" />
<ellipse cx="1165.7" cy="611" rx="9.5" ry="5.5" fill="#cfd8d8" stroke="#111" stroke-width="1.1"/>
<ellipse cx="1165.7" cy="611" rx="5" ry="3" fill="#555"/>
<ellipse cx="1264.3" cy="600.3" rx="7.5" ry="6.5" fill="#cfd8d8" stroke="#111" stroke-width="1.1"/>
<ellipse cx="1264.3" cy="600.3" rx="3.5" ry="3.2" fill="#444"/>
<path d="M1237,615.5 C1241,613.5 1246,614 1249,616.5 L1266.5,638.5 L1256,644 L1238,621.5 C1235.5,619.5 1235.5,617 1237,615.5 Z" fill="#fff" stroke="#000" stroke-width="3.6" stroke-linejoin="round" stroke-linecap="round" />
<path d="M1227.5,624 C1229,621.5 1232.5,621 1235,623.5 L1254,646 L1251.5,655 C1244,650 1236,642 1229.5,633.5 C1227,630 1226.5,627 1227.5,624 Z" fill="#fff" stroke="#000" stroke-width="3.6" stroke-linejoin="round" stroke-linecap="round" />
<path d="M1238.5,623 l3.2,1.2 l-0.6,2.6 l3.2,1.2 l-0.6,2.6 l3.2,1.2 l-0.6,2.6 l3.2,1.2 l-0.6,2.6 l3.2,1.2 l-0.6,2.6 l2.5,1" fill="none" stroke="#000" stroke-width="3.4" stroke-linejoin="round" stroke-linecap="round" />
<path d="M1254.4,659.0 A12,12 0 1,1 1276.3,650.1" fill="none" stroke="#e8192c" stroke-width="3.2"/>
<path d="M1258.8,656.2 A6.8,6.8 0 1,1 1271.3,651.2" fill="none" stroke="#e8192c" stroke-width="2"/>
<path d="M1251,661.6 L1264.3,656.5 C1267,660 1268,662 1268.7,662.3 C1270,667 1271,670 1273.1,673.3 C1275,677 1277,680 1278.9,682.9 C1282,686 1286,689 1288.5,692.4 C1291,696 1290.5,699.5 1287,701.9 C1284,703 1282,702 1280.4,700.5 C1276,697 1273,694 1270.1,691.7 C1266,687 1263,684 1261.3,680.7 C1259,677 1258,675 1257,673.3 C1255,669 1253,665 1251,661.6 Z" fill="#fff" stroke="#000" stroke-width="3.6" stroke-linejoin="round" stroke-linecap="round" />
<path d="M1268.7,650.6 L1274.5,641.1 C1278,642.5 1280,644 1283.3,645.5 C1287,647.5 1291,649.5 1294.3,651.3 C1298,654 1302,657 1305.3,660.1 C1309,664 1311,667 1312.7,670.4 C1314.5,674 1314,677 1311,679.5 C1308.5,681 1306.5,679.5 1305.3,677.7 C1303,675 1301.5,672.5 1299.5,670.4 C1296,667 1293.5,665 1290.7,663.1 C1287,661 1283,660 1279.7,658.7 C1276,657 1273,656 1270.9,654.3 Z" fill="#fff" stroke="#000" stroke-width="3.6" stroke-linejoin="round" stroke-linecap="round" />
<path d="M1036,778 l18.7,-17.3 l-11.7,0 c-1.0,-9.7 3.0,-17.7 11.3,-25.0 c-10.3,1.3 -24.8,8.3 -25.0,25.0 l-11.3,0 Z" fill="#fff" stroke="#000" stroke-width="2.1" stroke-linejoin="round" stroke-linecap="round" />
<polygon points="790.0,837.0 846.9,831.7 953.5,820.0 985.0,817.0 985.0,998.0 790.0,1015.2" fill="#e3e3e3" stroke="none" stroke-width="1" stroke-linejoin="round" />
<polygon points="790.0,810.4 953.5,796.5 953.5,820.0 846.9,831.7 790.0,837.0" fill="#f0f0f0" stroke="none" stroke-width="1" stroke-linejoin="round" />
<line x1="790.0" y1="810.4" x2="953.5" y2="796.5" stroke="#1a1a1a" stroke-width="1.2" />
<line x1="790.0" y1="815.7" x2="953.5" y2="801.8" stroke="#1a1a1a" stroke-width="1" />
<line x1="790.0" y1="821.0" x2="953.5" y2="807.1" stroke="#1a1a1a" stroke-width="1" />
<line x1="790.0" y1="827.5" x2="953.5" y2="813.6" stroke="#1a1a1a" stroke-width="1.4" />
<line x1="790.0" y1="833.9" x2="953.5" y2="820.0" stroke="#1a1a1a" stroke-width="1.6" />
<line x1="846.9" y1="831.7" x2="953.5" y2="820.0" stroke="#1a1a1a" stroke-width="1.2" />
<line x1="790.0" y1="837.0" x2="846.9" y2="831.7" stroke="#1a1a1a" stroke-width="1" />
<line x1="846.9" y1="831.7" x2="862.9" y2="934.1" stroke="#1a1a1a" stroke-width="1.3" />
<polygon points="790.0,941.6 872.5,934.0 872.5,937.5 790.0,948.0" fill="#cfcfcf" stroke="none" stroke-width="1" stroke-linejoin="round" />
<line x1="790.0" y1="941.6" x2="872.5" y2="934.0" stroke="#1a1a1a" stroke-width="1.1" />
<line x1="790.0" y1="948.0" x2="872.5" y2="938.5" stroke="#1a1a1a" stroke-width="1.1" />
<line x1="790.0" y1="944.8" x2="872.5" y2="936.3" stroke="#777" stroke-width="0.6" />
<line x1="862.9" y1="934.1" x2="872.5" y2="933.0" stroke="#1a1a1a" stroke-width="1" />
<line x1="872.5" y1="935.2" x2="978.0" y2="929.9" stroke="#1a1a1a" stroke-width="1.1" />
<line x1="872.5" y1="934.0" x2="870.3" y2="1007.7" stroke="#1a1a1a" stroke-width="1.2" />
<line x1="790.0" y1="1015.2" x2="972.7" y2="999.2" stroke="#1a1a1a" stroke-width="1.3" />
<path d="M953.2,791.6 L1246,762.8 Q1268.8,760 1268.8,780 L1268.8,860 L1045.6,881.6 L1050.4,936.8 L1049,939.2 L1048,994.4 L1043,995 L1041.5,988 L1035,989 L1030,1008.8 L972.4,1013.6 L978.4,935.6 Z" fill="#b4b4b4" stroke="#1a1a1a" stroke-width="1.2" stroke-linejoin="round" stroke-linecap="round" />
<line x1="978.4" y1="935.6" x2="1033.6" y2="929.6" stroke="#1a1a1a" stroke-width="1.1" />
<polyline points="1013.2,796.4 1033.6,929.6 1030.0,1008.8" fill="none" stroke="#1a1a1a" stroke-width="1.1" stroke-linejoin="round" stroke-linecap="round" />
<polyline points="1013.2,796.4 1250.0,771.0 1262.0,778.0 1262.0,860.5" fill="none" stroke="#1a1a1a" stroke-width="0.9" stroke-linejoin="round" stroke-linecap="round" />
<polyline points="1018.0,799.0 1038.0,932.0 1049.0,934.0" fill="none" stroke="#1a1a1a" stroke-width="0.9" stroke-linejoin="round" stroke-linecap="round" />
<polyline points="1022.0,803.0 1252.0,779.0 1257.0,785.0 1257.0,858.0" fill="none" stroke="#1a1a1a" stroke-width="0.9" stroke-linejoin="round" stroke-linecap="round" />
<polyline points="1026.0,806.0 1044.0,931.0" fill="none" stroke="#1a1a1a" stroke-width="0.9" stroke-linejoin="round" stroke-linecap="round" />
<polyline points="1034.4,807.6 1248.0,787.0 1253.0,790.0 1253.0,848.0 1045.6,868.0" fill="none" stroke="#1a1a1a" stroke-width="0.9" stroke-linejoin="round" stroke-linecap="round" />
<polygon points="1084.0,805.0 1185.6,795.0 1185.6,840.0 1084.0,849.0" fill="#fff" stroke="#1a1a1a" stroke-width="0.9" stroke-linejoin="round" />
<line x1="1034.4" y1="807.6" x2="1084.0" y2="805.0" stroke="#1a1a1a" stroke-width="0.9" />
<line x1="1184.0" y1="795.0" x2="1187.5" y2="845.0" stroke="#1a1a1a" stroke-width="0.8" />
<polyline points="1248.0,801.0 1244.0,803.0 1244.0,818.0 1248.0,820.0" fill="none" stroke="#1a1a1a" stroke-width="0.9" stroke-linejoin="round" stroke-linecap="round" />
<polyline points="1262.0,808.0 1258.0,810.0 1258.0,830.0 1262.0,832.0" fill="none" stroke="#1a1a1a" stroke-width="0.9" stroke-linejoin="round" stroke-linecap="round" />
<ellipse cx="1056.9" cy="831" rx="15" ry="8.5" fill="none" stroke="#111" stroke-width="1"/>
<ellipse cx="1056.9" cy="830" rx="10.5" ry="5.8" fill="#d4dede" stroke="#111" stroke-width="1"/>
<path d="M1051,830 l12,0 M1057,826 l0,8 M1052.5,827 l9,6 M1061.5,827 l-9,6" fill="none" stroke="#111" stroke-width="1.4" stroke-linejoin="round" stroke-linecap="round" />
<circle cx="1212.6" cy="814.8" r="11" fill="none" stroke="#111" stroke-width="1"/>
<circle cx="1213.6" cy="813.8" r="8" fill="#d4dede" stroke="#111" stroke-width="1"/>
<path d="M1209,813.8 l9,0 M1213.6,809.3 l0,9 M1210.4,810.6 l6.4,6.4 M1216.8,810.6 l-6.4,6.4" fill="none" stroke="#111" stroke-width="1.5" stroke-linejoin="round" stroke-linecap="round" />
<polygon points="1035.2,847.1 1058.0,845.1 1058.0,871.9 1035.2,873.7" fill="#555" stroke="none" stroke-width="1" stroke-linejoin="round" />
<line x1="1035.2" y1="847.1" x2="1058.0" y2="845.1" stroke="#111" stroke-width="1" />
<line x1="1035.2" y1="873.7" x2="1058.0" y2="871.9" stroke="#111" stroke-width="1" />
<ellipse cx="1058.0" cy="858.5" rx="4.7" ry="13.4" fill="#555" stroke="#111" stroke-width="1"/>
<ellipse cx="1058.9" cy="859.4" rx="3.5" ry="10.6" fill="#111"/>
<polygon points="1059.5,850.5 1097.7,845.1 1097.7,850.6 1059.5,856.2" fill="#fff" stroke="#111" stroke-width="0.9" stroke-linejoin="round" />
<polygon points="1059.5,861.2 1093.3,861.3 1093.3,866.2 1059.5,866.1" fill="#fff" stroke="#111" stroke-width="0.9" stroke-linejoin="round" />
<polygon points="1101.6,839.5 1150.7,833.9 1144.2,848.4 1138.9,853.7 1092.1,871.8 1100.9,843.0" fill="#fff" stroke="#111" stroke-width="0.8" stroke-linejoin="round" />
<polygon points="1096.3,845.2 1100.9,844.7 1101.6,843.6 1102.4,844.7 1112.3,844.3 1112.3,847.8 1098.6,848.4 1097.1,847.2" fill="#fff" stroke="#111" stroke-width="0.8" stroke-linejoin="round" />
<polygon points="1092.5,861.3 1095.6,861.6 1096.3,863.9 1108.5,863.6 1108.5,866.4 1094.0,866.1 1092.5,864.3" fill="#fff" stroke="#111" stroke-width="0.8" stroke-linejoin="round" />
<polygon points="1116.6,844.0 1133.6,839.6 1140.4,846.5 1141.5,856.0 1135.8,875.3 1124.4,876.9 1110.5,868.6 1110.0,860.7 1113.2,852.3" fill="#fff" stroke="#111" stroke-width="1.1" stroke-linejoin="round" />
<polygon points="1116.6,844.0 1133.6,839.6 1140.4,846.5 1123.3,851.2" fill="#fff" stroke="#111" stroke-width="0.9" stroke-linejoin="round" />
<line x1="1127.5" y1="865.9" x2="1131.7" y2="871.2" stroke="#111" stroke-width="7.295999999999999" />
<line x1="1127.5" y1="865.9" x2="1131.7" y2="871.2" stroke="#fff" stroke-width="5.776" />
<circle cx="1131.7" cy="871.2" r="3.5" fill="#fff" stroke="#111" stroke-width="1"/>
<ellipse cx="1132.1" cy="871.5" rx="2.0" ry="1.7" fill="none" stroke="#111" stroke-width="0.9"/>
<line x1="1119.7" y1="867.6" x2="1123.9" y2="872.9" stroke="#111" stroke-width="7.295999999999999" />
<line x1="1119.7" y1="867.6" x2="1123.9" y2="872.9" stroke="#fff" stroke-width="5.776" />
<circle cx="1123.9" cy="872.9" r="3.5" fill="#fff" stroke="#111" stroke-width="1"/>
<ellipse cx="1124.4" cy="873.2" rx="2.0" ry="1.7" fill="none" stroke="#111" stroke-width="0.9"/>
<line x1="1130.3" y1="857.6" x2="1134.5" y2="862.9" stroke="#111" stroke-width="7.295999999999999" />
<line x1="1130.3" y1="857.6" x2="1134.5" y2="862.9" stroke="#fff" stroke-width="5.776" />
<circle cx="1134.5" cy="862.9" r="3.5" fill="#fff" stroke="#111" stroke-width="1"/>
<ellipse cx="1134.9" cy="863.2" rx="2.0" ry="1.7" fill="none" stroke="#111" stroke-width="0.9"/>
<line x1="1122.5" y1="859.2" x2="1126.7" y2="864.5" stroke="#111" stroke-width="7.295999999999999" />
<line x1="1122.5" y1="859.2" x2="1126.7" y2="864.5" stroke="#fff" stroke-width="5.776" />
<circle cx="1126.7" cy="864.5" r="3.5" fill="#fff" stroke="#111" stroke-width="1"/>
<ellipse cx="1127.2" cy="864.9" rx="2.0" ry="1.7" fill="none" stroke="#111" stroke-width="0.9"/>
<line x1="1133.6" y1="849.2" x2="1137.8" y2="854.5" stroke="#111" stroke-width="7.295999999999999" />
<line x1="1133.6" y1="849.2" x2="1137.8" y2="854.5" stroke="#fff" stroke-width="5.776" />
<circle cx="1137.8" cy="854.5" r="3.5" fill="#fff" stroke="#111" stroke-width="1"/>
<ellipse cx="1138.3" cy="854.8" rx="2.0" ry="1.7" fill="none" stroke="#111" stroke-width="0.9"/>
<line x1="1126.3" y1="850.3" x2="1130.5" y2="855.7" stroke="#111" stroke-width="7.295999999999999" />
<line x1="1126.3" y1="850.3" x2="1130.5" y2="855.7" stroke="#fff" stroke-width="5.776" />
<circle cx="1130.5" cy="855.7" r="3.5" fill="#fff" stroke="#111" stroke-width="1"/>
<ellipse cx="1131.0" cy="856.0" rx="2.0" ry="1.7" fill="none" stroke="#111" stroke-width="0.9"/>
<polygon points="1116.6,844.0 1123.8,844.2 1124.4,851.9 1117.1,852.2" fill="#fff" stroke="#111" stroke-width="1.3" stroke-linejoin="round" />
<polygon points="1118.0,845.5 1122.1,845.6 1122.5,850.2 1118.4,850.3" fill="#fff" stroke="#111" stroke-width="0.8" stroke-linejoin="round" />
<line x1="1118.0" y1="845.5" x2="1122.5" y2="850.2" stroke="#111" stroke-width="0.6" />
<line x1="1122.1" y1="845.6" x2="1118.4" y2="850.3" stroke="#111" stroke-width="0.6" />
<polygon points="1113.2,852.3 1120.4,852.5 1121.0,860.3 1113.6,860.6" fill="#fff" stroke="#111" stroke-width="1.3" stroke-linejoin="round" />
<polygon points="1114.6,853.8 1118.7,854.0 1119.1,858.5 1114.9,858.7" fill="#fff" stroke="#111" stroke-width="0.8" stroke-linejoin="round" />
<line x1="1114.6" y1="853.8" x2="1119.1" y2="858.5" stroke="#111" stroke-width="0.6" />
<line x1="1118.7" y1="854.0" x2="1114.9" y2="858.7" stroke="#111" stroke-width="0.6" />
<polygon points="1110.0,860.7 1117.2,860.9 1117.8,868.7 1110.5,869.0" fill="#fff" stroke="#111" stroke-width="1.3" stroke-linejoin="round" />
<polygon points="1111.4,862.2 1115.5,862.3 1115.9,866.9 1111.7,867.1" fill="#fff" stroke="#111" stroke-width="0.8" stroke-linejoin="round" />
<line x1="1111.4" y1="862.2" x2="1115.9" y2="866.9" stroke="#111" stroke-width="0.6" />
<line x1="1115.5" y1="862.3" x2="1111.7" y2="867.1" stroke="#111" stroke-width="0.6" />
<path d="M1140.4,850.6 C1146.5,840.0 1158.6,832.0 1172.3,824.4" fill="none" stroke="#111" stroke-width="1.368" stroke-linejoin="round" stroke-linecap="round" />
<path d="M1141.2,851.4 C1148.0,841.5 1161.7,835.1 1174.6,827.5" fill="none" stroke="#111" stroke-width="0.8" stroke-linejoin="round" stroke-linecap="round" />
<path d="M1140.4,852.9 C1151.0,852.2 1161.7,846.4 1176.9,837.3" fill="none" stroke="#111" stroke-width="0.9" stroke-linejoin="round" stroke-linecap="round" />
<path d="M1140.4,855.2 C1152.6,855.2 1163.2,849.4 1179.2,840.3" fill="none" stroke="#111" stroke-width="0.9" stroke-linejoin="round" stroke-linecap="round" />
<line x1="1167.8" y1="821.0" x2="1173.8" y2="826.7" stroke="#111" stroke-width="0.8" />
<line x1="1176.1" y1="833.2" x2="1182.2" y2="838.5" stroke="#111" stroke-width="0.8" />
<line x1="1115.4" y1="872.4" x2="1137.9" y2="922.8" stroke="#111" stroke-width="1.3" />
<line x1="1137.0" y1="876.9" x2="1153.2" y2="894.0" stroke="#111" stroke-width="2.6" />
<line x1="1137.0" y1="876.9" x2="1153.2" y2="894.0" stroke="#fff" stroke-width="1" />
<polygon points="1151.0,894.5 1156.0,890.0 1172.5,912.0 1167.5,917.0" fill="#fff" stroke="#111" stroke-width="0.9" stroke-linejoin="round" />
<ellipse cx="1166.8" cy="980.6" rx="100.8" ry="59.4" fill="#fff" stroke="#111" stroke-width="1.5"/>
<clipPath id="elc"><ellipse cx="1166.8" cy="980.6" rx="100" ry="58.6"/></clipPath>
<g clip-path="url(#elc)">
<polygon points="1058.2,971.3 1088.2,968.7 1088.2,1003.9 1058.2,1006.3" fill="#555" stroke="none" stroke-width="1" stroke-linejoin="round" />
<line x1="1058.2" y1="971.3" x2="1088.2" y2="968.7" stroke="#111" stroke-width="1" />
<line x1="1058.2" y1="1006.3" x2="1088.2" y2="1003.9" stroke="#111" stroke-width="1" />
<ellipse cx="1088.2" cy="986.3" rx="6.2" ry="17.6" fill="#555" stroke="#111" stroke-width="1"/>
<ellipse cx="1089.4" cy="987.5" rx="4.6" ry="14.0" fill="#111"/>
<polygon points="1090.2,975.8 1134.8,968.7 1134.8,976.0 1090.2,983.3" fill="#fff" stroke="#111" stroke-width="0.9" stroke-linejoin="round" />
<polygon points="1090.2,989.8 1129.0,990.0 1129.0,996.5 1090.2,996.3" fill="#fff" stroke="#111" stroke-width="0.9" stroke-linejoin="round" />
<polygon points="1140.0,961.3 1204.5,954.0 1196.0,973.0 1189.0,980.0 1127.5,1003.9 1139.0,966.0" fill="#fff" stroke="#111" stroke-width="0.8" stroke-linejoin="round" />
<polygon points="1133.0,968.9 1139.0,968.2 1140.0,966.8 1141.0,968.2 1154.0,967.6 1154.0,972.2 1136.0,973.0 1134.0,971.5" fill="#fff" stroke="#111" stroke-width="0.8" stroke-linejoin="round" />
<polygon points="1128.0,990.0 1132.0,990.4 1133.0,993.5 1149.0,993.0 1149.0,996.8 1130.0,996.4 1128.0,994.0" fill="#fff" stroke="#111" stroke-width="0.8" stroke-linejoin="round" />
<polygon points="1159.7,967.2 1182.0,961.5 1191.0,970.5 1192.5,983.0 1185.0,1008.5 1170.0,1010.5 1151.6,999.6 1151.0,989.2 1155.2,978.2" fill="#fff" stroke="#111" stroke-width="1.1" stroke-linejoin="round" />
<polygon points="1159.7,967.2 1182.0,961.5 1191.0,970.5 1168.5,976.7" fill="#fff" stroke="#111" stroke-width="0.9" stroke-linejoin="round" />
<line x1="1174.0" y1="996.1" x2="1179.5" y2="1003.1" stroke="#111" stroke-width="9.6" />
<line x1="1174.0" y1="996.1" x2="1179.5" y2="1003.1" stroke="#fff" stroke-width="7.6" />
<circle cx="1179.5" cy="1003.1" r="4.6" fill="#fff" stroke="#111" stroke-width="1"/>
<ellipse cx="1180.1" cy="1003.5" rx="2.6" ry="2.2" fill="none" stroke="#111" stroke-width="0.9"/>
<line x1="1163.8" y1="998.3" x2="1169.3" y2="1005.3" stroke="#111" stroke-width="9.6" />
<line x1="1163.8" y1="998.3" x2="1169.3" y2="1005.3" stroke="#fff" stroke-width="7.6" />
<circle cx="1169.3" cy="1005.3" r="4.6" fill="#fff" stroke="#111" stroke-width="1"/>
<ellipse cx="1169.9" cy="1005.7" rx="2.6" ry="2.2" fill="none" stroke="#111" stroke-width="0.9"/>
<line x1="1177.7" y1="985.1" x2="1183.2" y2="992.1" stroke="#111" stroke-width="9.6" />
<line x1="1177.7" y1="985.1" x2="1183.2" y2="992.1" stroke="#fff" stroke-width="7.6" />
<circle cx="1183.2" cy="992.1" r="4.6" fill="#fff" stroke="#111" stroke-width="1"/>
<ellipse cx="1183.8" cy="992.5" rx="2.6" ry="2.2" fill="none" stroke="#111" stroke-width="0.9"/>
<line x1="1167.5" y1="987.3" x2="1173.0" y2="994.3" stroke="#111" stroke-width="9.6" />
<line x1="1167.5" y1="987.3" x2="1173.0" y2="994.3" stroke="#fff" stroke-width="7.6" />
<circle cx="1173.0" cy="994.3" r="4.6" fill="#fff" stroke="#111" stroke-width="1"/>
<ellipse cx="1173.6" cy="994.7" rx="2.6" ry="2.2" fill="none" stroke="#111" stroke-width="0.9"/>
<line x1="1182.1" y1="974.1" x2="1187.6" y2="981.1" stroke="#111" stroke-width="9.6" />
<line x1="1182.1" y1="974.1" x2="1187.6" y2="981.1" stroke="#fff" stroke-width="7.6" />
<circle cx="1187.6" cy="981.1" r="4.6" fill="#fff" stroke="#111" stroke-width="1"/>
<ellipse cx="1188.2" cy="981.5" rx="2.6" ry="2.2" fill="none" stroke="#111" stroke-width="0.9"/>
<line x1="1172.5" y1="975.6" x2="1178.0" y2="982.6" stroke="#111" stroke-width="9.6" />
<line x1="1172.5" y1="975.6" x2="1178.0" y2="982.6" stroke="#fff" stroke-width="7.6" />
<circle cx="1178.0" cy="982.6" r="4.6" fill="#fff" stroke="#111" stroke-width="1"/>
<ellipse cx="1178.6" cy="983.0" rx="2.6" ry="2.2" fill="none" stroke="#111" stroke-width="0.9"/>
<polygon points="1159.7,967.2 1169.2,967.5 1170.0,977.7 1160.3,978.1" fill="#fff" stroke="#111" stroke-width="1.3" stroke-linejoin="round" />
<polygon points="1161.5,969.2 1166.9,969.4 1167.5,975.4 1162.0,975.6" fill="#fff" stroke="#111" stroke-width="0.8" stroke-linejoin="round" />
<line x1="1161.5" y1="969.2" x2="1167.5" y2="975.4" stroke="#111" stroke-width="0.6" />
<line x1="1166.9" y1="969.4" x2="1162.0" y2="975.6" stroke="#111" stroke-width="0.6" />
<polygon points="1155.2,978.2 1164.7,978.5 1165.5,988.7 1155.8,989.1" fill="#fff" stroke="#111" stroke-width="1.3" stroke-linejoin="round" />
<polygon points="1157.0,980.2 1162.4,980.4 1163.0,986.4 1157.5,986.6" fill="#fff" stroke="#111" stroke-width="0.8" stroke-linejoin="round" />
<line x1="1157.0" y1="980.2" x2="1163.0" y2="986.4" stroke="#111" stroke-width="0.6" />
<line x1="1162.4" y1="980.4" x2="1157.5" y2="986.6" stroke="#111" stroke-width="0.6" />
<polygon points="1151.0,989.2 1160.5,989.5 1161.3,999.7 1151.6,1000.1" fill="#fff" stroke="#111" stroke-width="1.3" stroke-linejoin="round" />
<polygon points="1152.8,991.2 1158.2,991.4 1158.8,997.4 1153.3,997.6" fill="#fff" stroke="#111" stroke-width="0.8" stroke-linejoin="round" />
<line x1="1152.8" y1="991.2" x2="1158.8" y2="997.4" stroke="#111" stroke-width="0.6" />
<line x1="1158.2" y1="991.4" x2="1153.3" y2="997.6" stroke="#111" stroke-width="0.6" />
<path d="M1191.0,976.0 C1199.0,962.0 1215.0,951.5 1233.0,941.5" fill="none" stroke="#111" stroke-width="1.8" stroke-linejoin="round" stroke-linecap="round" />
<path d="M1192.0,977.0 C1201.0,964.0 1219.0,955.5 1236.0,945.5" fill="none" stroke="#111" stroke-width="0.8" stroke-linejoin="round" stroke-linecap="round" />
<path d="M1191.0,979.0 C1205.0,978.0 1219.0,970.4 1239.0,958.4" fill="none" stroke="#111" stroke-width="0.9" stroke-linejoin="round" stroke-linecap="round" />
<path d="M1191.0,982.0 C1207.0,982.0 1221.0,974.4 1242.0,962.4" fill="none" stroke="#111" stroke-width="0.9" stroke-linejoin="round" stroke-linecap="round" />
<line x1="1227.0" y1="937.0" x2="1235.0" y2="944.5" stroke="#111" stroke-width="0.8" />
<line x1="1238.0" y1="953.0" x2="1246.0" y2="960.0" stroke="#111" stroke-width="0.8" />
</g>
<ellipse cx="1166.8" cy="980.6" rx="100.8" ry="59.4" fill="none" stroke="#111" stroke-width="1.5"/>
<polygon points="790.0,1126.7 825.8,1124.2 826.3,1139.5 790.0,1142.0" fill="#4a4a4a" stroke="none" stroke-width="1" stroke-linejoin="round" />
<line x1="790.0" y1="1142.8" x2="827.3" y2="1140.2" stroke="#1a1a1a" stroke-width="1.6" />
<line x1="790.0" y1="1144.7" x2="827.3" y2="1142.1" stroke="#1a1a1a" stroke-width="0.9" />
<polygon points="790.0,1115.9 1195.0,1087.0 1195.0,1096.1 790.0,1124.5" fill="#555" stroke="none" stroke-width="1" stroke-linejoin="round" />
<line x1="790.0" y1="1115.9" x2="1195.0" y2="1087.0" stroke="#111" stroke-width="1.3" />
<line x1="790.0" y1="1118.0" x2="1195.0" y2="1089.3" stroke="#a0a0a0" stroke-width="0.6" />
<line x1="790.0" y1="1120.2" x2="1195.0" y2="1091.6" stroke="#a0a0a0" stroke-width="0.6" />
<line x1="790.0" y1="1122.3" x2="1195.0" y2="1093.9" stroke="#a0a0a0" stroke-width="0.6" />
<line x1="790.0" y1="1124.5" x2="1195.0" y2="1096.1" stroke="#111" stroke-width="1.3" />
<polygon points="822.8,1122.2 1195.0,1096.1 1199.0,1131.0 1199.0,1151.0 830.3,1176.5 827.0,1173.7" fill="#e3e3e3" stroke="#1a1a1a" stroke-width="1.2" stroke-linejoin="round" />
<line x1="831.8" y1="1154.5" x2="1199.0" y2="1128.0" stroke="#1a1a1a" stroke-width="2.5" />
<polyline points="826.4,1121.9 832.8,1154.4 830.3,1175.7" fill="none" stroke="#1a1a1a" stroke-width="0.9" stroke-linejoin="round" stroke-linecap="round" />
<polyline points="881.3,1118.1 884.0,1150.7 886.7,1172.5" fill="none" stroke="#1a1a1a" stroke-width="1" stroke-linejoin="round" stroke-linecap="round" />
<polyline points="884.6,1117.9 887.3,1150.5 890.0,1172.2" fill="none" stroke="#1a1a1a" stroke-width="1" stroke-linejoin="round" stroke-linecap="round" />
<polyline points="1161.2,1098.5 1166.6,1130.4 1166.6,1154.8" fill="none" stroke="#1a1a1a" stroke-width="1" stroke-linejoin="round" stroke-linecap="round" />
<path d="M1211.8,1084.7 L1285.7,1078.5 Q1291.7,1077.9 1292.2,1083.5 L1292.2,1108.5 L1224.8,1113.6 L1223,1145.3 L1223.5,1150.3 L1221.5,1151.3 L1219,1149.3 Z" fill="#eeeeee" stroke="#1a1a1a" stroke-width="1" stroke-linejoin="round" stroke-linecap="round" />
<polyline points="1213.7,1086.9 1286.4,1080.7 1290.0,1083.7 1290.0,1107.5" fill="none" stroke="#1a1a1a" stroke-width="0.8" stroke-linejoin="round" stroke-linecap="round" />
<polyline points="1214.5,1088.9 1285.2,1082.7 1288.0,1085.7 1288.0,1107.5" fill="none" stroke="#1a1a1a" stroke-width="0.8" stroke-linejoin="round" stroke-linecap="round" />
<polyline points="1215.3,1090.9 1284.0,1084.7 1286.0,1087.7 1286.0,1107.5" fill="none" stroke="#1a1a1a" stroke-width="1.0" stroke-linejoin="round" stroke-linecap="round" />
<polyline points="1213.3,1087.6 1219.3,1147.3" fill="none" stroke="#1a1a1a" stroke-width="0.8" stroke-linejoin="round" stroke-linecap="round" />
<polyline points="1215.8,1089.1 1221.6,1147.3" fill="none" stroke="#1a1a1a" stroke-width="0.9" stroke-linejoin="round" stroke-linecap="round" />
<polyline points="1218.3,1090.6 1223.8,1147.3" fill="none" stroke="#1a1a1a" stroke-width="0.8" stroke-linejoin="round" stroke-linecap="round" />
<polygon points="1223.0,1093.0 1236.1,1091.5 1236.1,1109.0 1225.0,1111.0" fill="#bcbcbc" stroke="#1a1a1a" stroke-width="0.8" stroke-linejoin="round" />
<polygon points="1266.7,1088.5 1286.0,1086.5 1286.0,1104.0 1266.7,1106.0" fill="#bcbcbc" stroke="#1a1a1a" stroke-width="0.8" stroke-linejoin="round" />
<polygon points="1236.1,1091.0 1266.7,1088.5 1266.7,1101.5 1236.1,1104.0" fill="#fff" stroke="#1a1a1a" stroke-width="0.8" stroke-linejoin="round" />
<polygon points="1194.8,1085.9 1211.8,1084.7 1215.9,1128.5 1198.2,1131.5" fill="#b6b6b6" stroke="#1a1a1a" stroke-width="1.1" stroke-linejoin="round" />
<polygon points="1198.2,1131.5 1215.9,1128.5 1218.0,1153.3 1199.9,1155.0" fill="#bdbdbd" stroke="#1a1a1a" stroke-width="1.1" stroke-linejoin="round" />
<polygon points="1225.0,1104.0 1286.0,1098.0 1286.0,1106.0 1225.0,1112.0" fill="#a8a8a8" stroke="none" stroke-width="1" stroke-linejoin="round" />
<ellipse cx="1231" cy="1097.5" rx="3.2" ry="1.8" fill="#333"/>
<ellipse cx="1279.5" cy="1094" rx="2.4" ry="2" fill="#333"/>
<polygon points="1240.0,1101.0 1250.0,1099.0 1250.0,1103.0 1240.0,1105.0" fill="#fff" stroke="#222" stroke-width="0.6" stroke-linejoin="round" />
<polygon points="1250.0,1097.0 1256.0,1096.0 1257.0,1104.0 1251.0,1105.0" fill="#444" stroke="none" stroke-width="1" stroke-linejoin="round" />
<path d="M1256,1099 C1259,1096 1261,1093 1264,1091 M1256,1101 C1260,1100 1262,1097 1265,1094" fill="none" stroke="#222" stroke-width="0.8" stroke-linejoin="round" stroke-linecap="round" />
<line x1="1229.0" y1="1101.0" x2="1240.0" y2="1101.0" stroke="#222" stroke-width="1.5" />
<line x1="1229.0" y1="1104.0" x2="1240.0" y2="1103.5" stroke="#222" stroke-width="1.5" />
<polygon points="1256.5,1121.6 1269.6,1135.2 1265.6,1135.6 1265.6,1149.9 1252.6,1151.0 1252.6,1137.5 1247.5,1138.0" fill="#fff" stroke="#111" stroke-width="1.3" stroke-linejoin="round" />
<polygon points="1223.7,1159.5 1297.3,1153.3 1301.9,1157.3 1307.0,1194.7 1229.9,1200.9" fill="#fff" stroke="#111" stroke-width="1.1" stroke-linejoin="round" />
<line x1="1295.6" y1="1155.0" x2="1304.7" y2="1197.0" stroke="#111" stroke-width="0.8" />
<pattern id="hatch" patternUnits="userSpaceOnUse" width="2.8" height="2.8" patternTransform="rotate(40)"><rect width="2.8" height="2.8" fill="#f4f4f4"/><rect width="1.95" height="2.8" fill="#1a1a1a"/></pattern>
<polygon points="1229.9,1200.9 1306.4,1194.7 1305.8,1218.5 1228.2,1225.3" fill="#fff" stroke="#111" stroke-width="1.1" stroke-linejoin="round" />
<polygon points="1233.9,1202.5 1302.4,1197.0 1302.0,1217.0 1233.0,1222.5" fill="url(#hatch)" stroke="#222" stroke-width="0.9" stroke-linejoin="round" />
<polygon points="1218.6,1182.0 1222.0,1181.0 1227.0,1224.0 1223.5,1224.5" fill="#fff" stroke="#111" stroke-width="0.9" stroke-linejoin="round" />
<path d="M1033.4,1282.2 l18.7,-17.3 l-11.7,0 c-1.0,-9.7 3.0,-17.7 11.3,-25.0 c-10.3,1.3 -24.8,8.3 -25.0,25.0 l-11.3,0 Z" fill="#fff" stroke="#000" stroke-width="2.1" stroke-linejoin="round" stroke-linecap="round" />
<polygon points="790.0,1349.3 831.2,1346.4 830.8,1363.5 790.0,1366.4" fill="#4a4a4a" stroke="none" stroke-width="1" stroke-linejoin="round" />
<line x1="790.0" y1="1367.2" x2="831.8" y2="1364.2" stroke="#1a1a1a" stroke-width="1.6" />
<line x1="790.0" y1="1370.0" x2="831.8" y2="1367.0" stroke="#1a1a1a" stroke-width="0.9" />
<polygon points="790.0,1340.3 1195.0,1311.4 1195.0,1320.4 790.0,1349.3" fill="#555" stroke="none" stroke-width="1" stroke-linejoin="round" />
<line x1="790.0" y1="1340.3" x2="1195.0" y2="1311.4" stroke="#111" stroke-width="1.3" />
<line x1="790.0" y1="1342.6" x2="1195.0" y2="1313.7" stroke="#a0a0a0" stroke-width="0.6" />
<line x1="790.0" y1="1344.8" x2="1195.0" y2="1315.9" stroke="#a0a0a0" stroke-width="0.6" />
<line x1="790.0" y1="1347.1" x2="1195.0" y2="1318.2" stroke="#a0a0a0" stroke-width="0.6" />
<line x1="790.0" y1="1349.3" x2="1195.0" y2="1320.4" stroke="#111" stroke-width="1.3" />
<polygon points="828.2,1346.6 1195.0,1320.4 1199.0,1354.0 1199.0,1376.0 834.8,1400.0 831.5,1397.2" fill="#e3e3e3" stroke="#1a1a1a" stroke-width="1.2" stroke-linejoin="round" />
<line x1="836.3" y1="1380.3" x2="1199.0" y2="1353.1" stroke="#1a1a1a" stroke-width="2.5" />
<polyline points="831.8,1346.3 837.3,1380.3 834.8,1399.2" fill="none" stroke="#1a1a1a" stroke-width="0.9" stroke-linejoin="round" stroke-linecap="round" />
<polyline points="885.8,1342.5 888.5,1376.4 891.2,1395.8" fill="none" stroke="#1a1a1a" stroke-width="1" stroke-linejoin="round" stroke-linecap="round" />
<polyline points="889.1,1342.3 891.8,1376.2 894.5,1395.6" fill="none" stroke="#1a1a1a" stroke-width="1" stroke-linejoin="round" stroke-linecap="round" />
<polyline points="1162.0,1322.8 1166.7,1355.5 1167.6,1377.5" fill="none" stroke="#1a1a1a" stroke-width="1" stroke-linejoin="round" stroke-linecap="round" />
<polygon points="1194.7,1310.8 1213.3,1309.9 1219.0,1351.9 1201.2,1353.7" fill="#b2b2b2" stroke="#111" stroke-width="1" stroke-linejoin="round" />
<polygon points="1201.2,1353.7 1219.0,1351.9 1219.0,1376.1 1199.3,1378.0" fill="#bcbcbc" stroke="#111" stroke-width="1" stroke-linejoin="round" />
<polygon points="1213.3,1309.9 1286.1,1302.4 1291.7,1305.2 1296.4,1346.3 1219.0,1351.9" fill="#ababab" stroke="#111" stroke-width="1" stroke-linejoin="round" />
<line x1="1284.3" y1="1302.5" x2="1290.8" y2="1348.0" stroke="#111" stroke-width="0.8" />
<polygon points="1219.0,1351.9 1296.4,1346.5 1294.5,1368.7 1219.0,1376.1" fill="#bbb" stroke="#111" stroke-width="1" stroke-linejoin="round" />
<polygon points="1221.5,1353.8 1293.0,1348.8 1292.0,1367.8 1221.5,1374.0" fill="url(#hatch)" stroke="#222" stroke-width="1" stroke-linejoin="round" />
<line x1="1213.3" y1="1312.5" x2="1286.0" y2="1305.0" stroke="#222" stroke-width="0.8" />
<rect x="1252.3" y="1397.4" width="56.5" height="55.5" rx="8" ry="8" fill="#fff" stroke="#111" stroke-width="1.8"/>
<line x1="1292.2" y1="1444.8" x2="1292.2" y2="1420.0" stroke="#111" stroke-width="1.9" />
<polygon points="1292.1,1408.0 1296.8,1424.2 1287.4,1424.2" fill="#111" stroke="none" stroke-width="1" stroke-linejoin="round" />
<path d="M1266.8,1414.5 L1266.2,1421 C1267.5,1428 1267.5,1436 1266.5,1440 L1265.8,1446 L1279.8,1446 L1279,1440 C1278,1436 1278,1428 1279.3,1421 L1278.6,1414.5" fill="#fff" stroke="#222" stroke-width="0.9" stroke-linejoin="round" stroke-linecap="round" />
<line x1="1267.5" y1="1428.0" x2="1278.0" y2="1428.0" stroke="#444" stroke-width="1.1" />
<line x1="1266.5" y1="1444.5" x2="1279.0" y2="1444.5" stroke="#444" stroke-width="1.1" />
<line x1="1269.5" y1="1422.5" x2="1274.5" y2="1422.5" stroke="#333" stroke-width="0.9" />
<line x1="1266.0" y1="1404.5" x2="1266.0" y2="1412.0" stroke="#333" stroke-width="0.8" stroke-dasharray="1.6,1.6"/>
<line x1="1278.7" y1="1404.5" x2="1278.7" y2="1412.0" stroke="#333" stroke-width="0.8" stroke-dasharray="1.6,1.6"/>
<line x1="1266.0" y1="1404.5" x2="1278.7" y2="1404.5" stroke="#333" stroke-width="0.9" stroke-dasharray="2,1.5"/>
<text x="1272.3" y="1412.6" font-size="7.6" fill="#111" font-weight="bold" text-anchor="middle" >on</text>
<text x="1271.8" y="1441.4" font-size="7.6" fill="#111" font-weight="bold" text-anchor="middle" >off</text>
<text x="1256.4" y="1468.8" font-size="10.35" fill="#111" font-weight="bold" text-anchor="start" >On Porwer</text>
</svg></body></html>
